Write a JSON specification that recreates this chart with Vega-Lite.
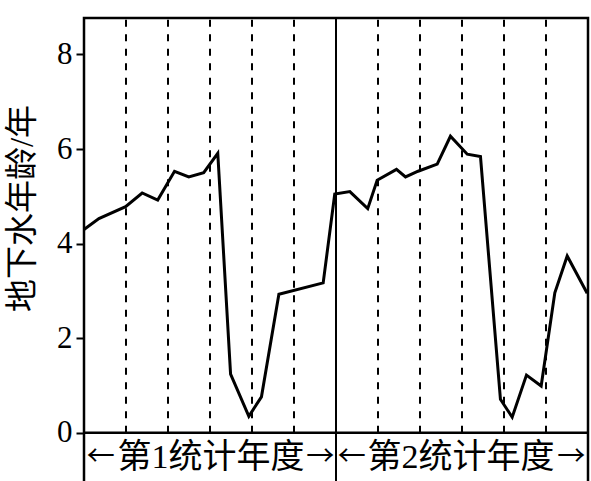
{
  "$schema": "https://vega.github.io/schema/vega-lite/v6.json",
  "autosize": {"type": "none"},
  "padding": {"left": 84, "top": 18, "right": 3, "bottom": 0},
  "width": 504,
  "height": 466,
  "background": "white",
  "config": {
    "view": {"stroke": "black", "strokeWidth": 2.5},
    "axis": {"grid": false}
  },
  "datasets": {
    "series": [
      {"x": 0, "y": 4.30}, {"x": 0.71, "y": 4.53}, {"x": 1.98, "y": 4.78},
      {"x": 2.77, "y": 5.07}, {"x": 3.51, "y": 4.92}, {"x": 4.31, "y": 5.53},
      {"x": 4.99, "y": 5.41}, {"x": 5.70, "y": 5.50}, {"x": 6.37, "y": 5.91},
      {"x": 6.98, "y": 1.24}, {"x": 7.85, "y": 0.35}, {"x": 8.45, "y": 0.76},
      {"x": 9.28, "y": 2.93}, {"x": 11.39, "y": 3.17}, {"x": 11.94, "y": 5.05},
      {"x": 12.66, "y": 5.10}, {"x": 13.51, "y": 4.74}, {"x": 13.96, "y": 5.34},
      {"x": 14.88, "y": 5.57}, {"x": 15.31, "y": 5.41}, {"x": 15.91, "y": 5.53},
      {"x": 16.82, "y": 5.68}, {"x": 17.45, "y": 6.27}, {"x": 18.25, "y": 5.89},
      {"x": 18.88, "y": 5.84}, {"x": 19.83, "y": 0.71}, {"x": 20.39, "y": 0.33},
      {"x": 21.07, "y": 1.22}, {"x": 21.77, "y": 0.99}, {"x": 22.42, "y": 2.96},
      {"x": 23.01, "y": 3.74}, {"x": 23.96, "y": 2.95}
    ],
    "dashes": [
      {"x": 2}, {"x": 4}, {"x": 6}, {"x": 8}, {"x": 10},
      {"x": 14}, {"x": 16}, {"x": 18}, {"x": 20}, {"x": 22}
    ],
    "labels": [
      {"x": 6.05, "y": -0.53, "label": "第1统计年度"},
      {"x": 17.95, "y": -0.53, "label": "第2统计年度"}
    ],
    "arrows": [
      {"x": 0.8, "y": -0.53, "a": "←"},
      {"x": 11.25, "y": -0.53, "a": "→"},
      {"x": 12.75, "y": -0.53, "a": "←"},
      {"x": 23.2, "y": -0.53, "a": "→"}
    ]
  },
  "layer": [
    {
      "data": {"name": "dashes"},
      "mark": {"type": "rule", "color": "black", "strokeWidth": 2, "strokeDash": [7, 7.5]},
      "encoding": {
        "x": {"field": "x", "type": "quantitative", "scale": {"domain": [0, 24], "nice": false, "zero": false}, "axis": null},
        "y": {"datum": 0, "type": "quantitative", "scale": {"domain": [-1.082, 8.77], "nice": false, "zero": false},
          "axis": {
            "values": [0, 2, 4, 6, 8],
            "domain": false,
            "ticks": true, "tickSize": 8, "tickWidth": 2, "tickColor": "black",
            "labelFont": "Liberation Serif", "labelFontSize": 31, "labelColor": "black", "labelPadding": 4,
            "title": "地下水年龄/年",
            "titleFont": "Liberation Serif, Noto Sans CJK SC",
            "titleFontSize": 33, "titleFontWeight": "normal", "titleColor": "black",
            "titleX": -62, "titleY": 190, "titleAngle": -90,
            "titleAlign": "center", "titleBaseline": "middle"
          }
        },
        "y2": {"datum": 8.77}
      }
    },
    {
      "data": {"values": [{"x": 12}]},
      "mark": {"type": "rule", "color": "black", "strokeWidth": 2},
      "encoding": {
        "x": {"field": "x", "type": "quantitative"},
        "y": {"datum": -1.082},
        "y2": {"datum": 8.77}
      }
    },
    {
      "data": {"values": [{"x": 0, "x2": 24}]},
      "mark": {"type": "rule", "color": "black", "strokeWidth": 2.5},
      "encoding": {
        "x": {"field": "x", "type": "quantitative"},
        "x2": {"field": "x2"},
        "y": {"datum": 0}
      }
    },
    {
      "data": {"name": "series"},
      "mark": {"type": "line", "color": "black", "strokeWidth": 3},
      "encoding": {
        "x": {"field": "x", "type": "quantitative"},
        "y": {"field": "y", "type": "quantitative"}
      }
    },
    {
      "data": {"name": "labels"},
      "mark": {"type": "text", "color": "black", "font": "Liberation Serif, Noto Sans CJK SC", "fontSize": 34, "align": "center", "baseline": "middle"},
      "encoding": {
        "x": {"field": "x", "type": "quantitative"},
        "y": {"field": "y", "type": "quantitative"},
        "text": {"field": "label"}
      }
    },
    {
      "data": {"name": "arrows"},
      "mark": {"type": "text", "color": "black", "font": "Noto Sans CJK SC", "fontSize": 28, "align": "center", "baseline": "middle"},
      "encoding": {
        "x": {"field": "x", "type": "quantitative"},
        "y": {"field": "y", "type": "quantitative"},
        "text": {"field": "a"}
      }
    }
  ]
}
